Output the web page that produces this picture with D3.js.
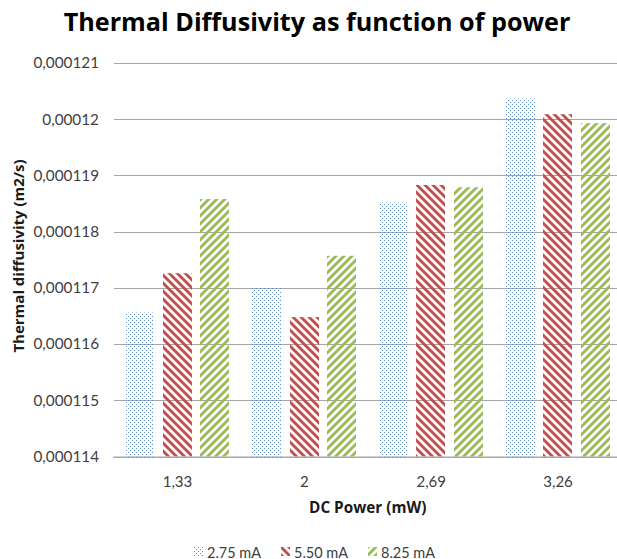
<!DOCTYPE html>
<html>
<head>
<meta charset="utf-8">
<script src="https://cdn.jsdelivr.net/npm/d3@7/dist/d3.min.js"></script>
<style>
  html, body { margin: 0; padding: 0; background: #ffffff; }
  svg { display: block; font-family: Lato, "Open Sans", sans-serif; }
</style>
</head>
<body>
<svg id="chart" width="617" height="559"></svg>
<script>
// Categories on the x axis (DC power, mW)
const categories = ["1,33", "2", "2,69", "3,26"];
// Series names (bias current)
const seriesNames = ["2.75 mA", "5.50 mA", "8.25 mA"];
// Thermal diffusivity per series, in m2/s, one value per category
const series275 = [0.00011656, 0.00011701, 0.00011852, 0.00012037];
const series550 = [0.00011726, 0.00011648, 0.00011883, 0.00012009];
const series825 = [0.00011858, 0.00011757, 0.00011879, 0.00011993];
// Y axis ticks and their labels
const yTicks = [0.000114, 0.000115, 0.000116, 0.000117, 0.000118, 0.000119, 0.00012, 0.000121];
const yTickLabels = ["0,000114", "0,000115", "0,000116", "0,000117", "0,000118", "0,000119", "0,00012", "0,000121"];

const seriesValues = [series275, series550, series825];
const patternIds = ["pat-dots", "pat-down", "pat-up"];

const svg = d3.select("#chart");
const W = 617, H = 559;
const plot = { left: 114, right: 621.5, top: 63, bottom: 456.5 };
const boldFont = "'Open Sans', Lato, sans-serif";

// Fill patterns (all in root user space)
const defs = svg.append("defs");
const dots = defs.append("pattern").attr("id", "pat-dots")
  .attr("patternUnits", "userSpaceOnUse").attr("width", 4).attr("height", 4);
dots.append("rect").attr("x", 0).attr("y", 0).attr("width", 1).attr("height", 1).attr("fill", "#5a8bd0");
dots.append("rect").attr("x", 2).attr("y", 2).attr("width", 1).attr("height", 1).attr("fill", "#5a8bd0");

const down = defs.append("pattern").attr("id", "pat-down")
  .attr("patternUnits", "userSpaceOnUse").attr("width", 8).attr("height", 8);
down.append("path").attr("d", "M-2,-2 L10,10 M-6,2 L2,10 M6,-2 L14,6")
  .attr("stroke", "#c0504d").attr("stroke-width", 2.9).attr("fill", "none");

const up = defs.append("pattern").attr("id", "pat-up")
  .attr("patternUnits", "userSpaceOnUse").attr("width", 8).attr("height", 8);
up.append("path").attr("d", "M-2,10 L10,-2 M-6,6 L2,-2 M6,10 L14,2")
  .attr("stroke", "#9bbb59").attr("stroke-width", 2.9).attr("fill", "none");

// Scales
const x0 = d3.scaleBand().domain(categories).range([plot.left, plot.right]).padding(0);
const x1 = d3.scaleBand().domain(d3.range(seriesNames.length))
  .range([0, x0.bandwidth()]).paddingInner(0.21).paddingOuter(0.306);
const y = d3.scaleLinear().domain([yTicks[0], yTicks[yTicks.length - 1]])
  .range([plot.bottom, plot.top]);

// Title
svg.append("text")
  .attr("x", 317).attr("y", 31)
  .attr("text-anchor", "middle")
  .attr("font-family", boldFont)
  .attr("font-size", 25.2).attr("font-weight", "bold").attr("fill", "#000")
  .text("Thermal Diffusivity as function of power");

// Gridlines + y tick labels via axis
const yAxis = d3.axisLeft(y).tickValues(yTicks)
  .tickFormat((d, i) => yTickLabels[i])
  .tickSize(-(W - plot.left)).tickPadding(15);
const gy = svg.append("g").attr("transform", `translate(${plot.left},0)`).call(yAxis);
gy.select(".domain").remove();
gy.selectAll(".tick line").attr("stroke", "#a6a6a6").attr("stroke-width", 1)
  .attr("shape-rendering", "crispEdges");
gy.selectAll(".tick text").attr("font-size", 15.3).attr("fill", "#404040")
  .attr("font-family", "Lato, sans-serif");

// Bars: one rect per category and series
const barData = categories.flatMap((c, ci) =>
  seriesValues.map((vals, si) => ({ c, si, v: vals[ci] })));
svg.append("g").selectAll("rect")
  .data(barData).join("rect")
  .attr("x", d => Math.round(x0(d.c) + x1(d.si)))
  .attr("width", Math.round(x1.bandwidth()))
  .attr("y", d => y(d.v))
  .attr("height", d => y(yTicks[0]) - y(d.v))
  .attr("fill", d => `url(#${patternIds[d.si]})`);

// X axis
const xAxis = d3.axisBottom(x0).tickSize(0).tickPadding(20);
const gx = svg.append("g").attr("transform", `translate(0,${plot.bottom})`).call(xAxis);
gx.select(".domain").attr("stroke", "#a6a6a6").attr("d", `M${plot.left - 1},0.5H${W}`);
gx.selectAll(".tick text").attr("font-size", 15).attr("fill", "#404040")
  .attr("font-family", "Lato, sans-serif");

// Axis titles
svg.append("text")
  .attr("x", (plot.left + plot.right) / 2).attr("y", 513)
  .attr("text-anchor", "middle").attr("font-family", boldFont)
  .attr("font-size", 15.3).attr("font-weight", "bold").attr("fill", "#1a1a1a")
  .text("DC Power (mW)");
svg.append("text")
  .attr("transform", "translate(24,256) rotate(-90)")
  .attr("text-anchor", "middle").attr("font-family", boldFont)
  .attr("font-size", 15).attr("font-weight", "bold").attr("fill", "#1a1a1a")
  .text("Thermal diffusivity (m2/s)");

// Legend
const legendX = [194, 281, 368];
const legend = svg.append("g");
seriesNames.forEach((name, i) => {
  const g = legend.append("g").attr("transform", `translate(${legendX[i]},547)`);
  g.append("rect").attr("width", 9).attr("height", 9).attr("fill", `url(#${patternIds[i]})`);
  g.append("text").attr("x", 13).attr("y", 10.5)
    .attr("font-size", 14.5).attr("fill", "#404040").text(name);
});
</script>
</body>
</html>
